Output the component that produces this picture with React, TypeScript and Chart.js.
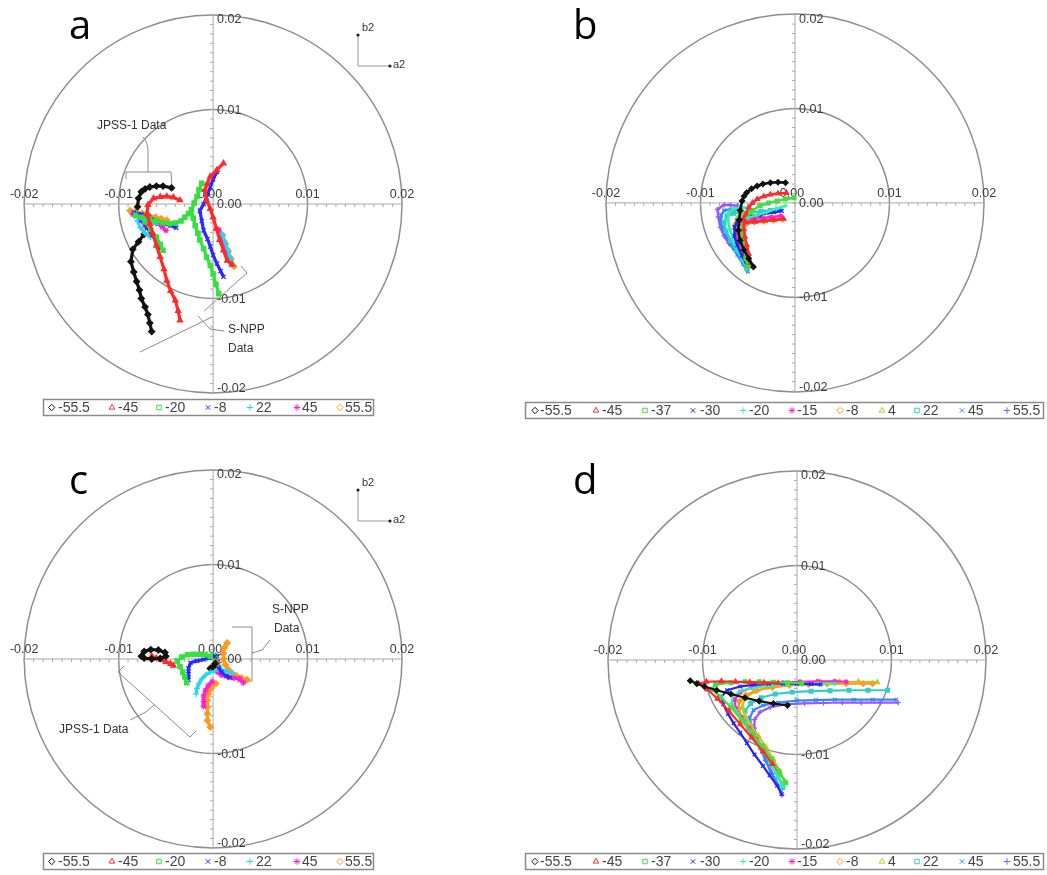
import React, { useEffect, useRef } from 'react';
import { Chart, registerables } from 'chart.js';
import { drawPoint } from 'chart.js/helpers';

Chart.register(...registerables);

// ---------- axis / ring values ----------
const tickValues = [-0.02, -0.01, 0, 0.01, 0.02];
const tickLabels = ['-0.02', '-0.01', '0.00', '0.01', '0.02'];
const ringValues = [0.01, 0.02];

// ---------- panel a / c (7 series) — values in units of 1e-3 ----------
const acLabels = ['-55.5', '-45', '-20', '-8', '22', '45', '55.5'];

const aJpss: number[][][] = [
  [[-4.4, 1.7], [-5.3, 1.9], [-6.0, 1.9], [-6.7, 1.8], [-7.2, 1.6], [-7.6, 1.3], [-7.9, 0.6], [-8.0, -0.3]],
  [[-3.5, 0.4], [-4.2, 0.7], [-4.9, 0.8], [-5.6, 0.75], [-6.3, 0.6], [-6.9, -0.1], [-7.0, -1.0], [-6.7, -2.1], [-6.4, -3.1], [-6.0, -4.4], [-5.6, -5.6], [-5.2, -6.9], [-4.9, -8.1], [-4.5, -9.2], [-4.0, -10.2], [-3.7, -11.3], [-3.5, -12.3]],
  [[-8.2, -1.2], [-7.5, -1.4], [-6.8, -1.6], [-6.0, -1.8], [-5.3, -2.0], [-4.6, -2.1], [-4.0, -2.0], [-3.4, -1.8], [-3.0, -1.4], [-2.6, -1.0]],
  [[-8.4, -0.9], [-7.6, -1.1], [-6.8, -1.4], [-6.0, -1.8], [-5.2, -2.1], [-4.5, -2.3], [-3.9, -2.5]],
  [[-8.3, -1.3], [-7.5, -1.5], [-6.7, -1.8], [-6.0, -2.1]],
  [[-8.5, -1.1], [-7.7, -1.4], [-6.9, -1.7], [-6.1, -2.0], [-5.4, -2.4], [-5.0, -2.8]],
  [[-8.8, -0.7], [-8.2, -0.8], [-7.5, -1.0], [-6.8, -1.2], [-6.1, -1.4], [-5.5, -1.55], [-4.9, -1.7]],
];
const aJpssLow: number[][][] = [
  [],
  [],
  [[-7.2, -1.9], [-6.6, -2.7], [-6.0, -3.5], [-5.6, -4.3], [-5.3, -4.9]],
  [[-7.6, -1.7], [-7.0, -2.5], [-6.4, -3.3], [-5.9, -4.1], [-5.6, -4.7]],
  [[-8.0, -1.8], [-7.7, -2.5], [-7.2, -3.1], [-6.6, -3.5]],
  [[-7.8, -1.6], [-7.2, -2.3], [-6.6, -3.0], [-6.1, -3.6]],
  [],
];
const aSnpp: number[][][] = [
  [[-7.3, -3.2], [-7.9, -4.0], [-8.5, -4.8], [-8.7, -6.1], [-8.4, -7.2], [-8.1, -8.2], [-7.8, -9.1], [-7.6, -10.0], [-7.2, -10.9], [-6.9, -11.7], [-6.7, -12.6], [-6.5, -13.5]],
  [[1.1, 4.3], [0.4, 3.6], [-0.3, 2.9], [-0.6, 2.2], [-0.85, 1.5], [-0.7, 0.4], [-0.3, -0.5], [0.0, -1.4], [0.35, -2.6], [0.7, -3.8], [1.1, -4.9], [1.5, -6.0], [2.0, -6.4]],
  [[-1.2, 2.2], [-1.5, 1.5], [-1.7, 0.8], [-2.0, 0.1], [-2.3, -0.6], [-2.1, -1.5], [-1.9, -2.3], [-1.6, -3.1], [-1.4, -3.8], [-1.0, -4.7], [-0.7, -5.6], [-0.3, -6.5], [0.0, -7.4], [0.3, -8.5], [0.6, -9.5]],
  [[0.4, 3.4], [0.0, 2.6], [-0.3, 1.8], [-0.7, 0.7], [-1.0, 0.0], [-1.4, -0.7], [-1.2, -1.8], [-1.0, -2.8], [-0.6, -3.7], [-0.3, -4.5], [0.0, -5.4], [0.4, -6.3], [0.8, -7.1], [1.1, -7.7]],
  [[0.9, -3.1], [1.2, -3.9], [1.5, -4.7], [1.8, -5.6], [2.1, -6.4]],
  [[0.6, -2.7], [0.9, -3.5], [1.2, -4.3], [1.5, -5.2], [1.8, -6.0]],
  [[1.0, -3.3], [1.3, -4.2], [1.6, -5.0], [1.9, -5.8], [2.2, -6.6]],
];

const cJpss: number[][][] = [
  [[-7.6, 0.3], [-7.3, 0.8], [-6.6, 1.0], [-5.8, 0.95], [-5.1, 0.7], [-5.0, 0.3], [-5.6, 0.05], [-6.5, 0.0], [-7.3, 0.1]],
  [[-6.5, 0.3], [-6.0, 0.1], [-5.5, -0.1], [-5.0, -0.3], [-4.5, -0.5], [-4.2, -0.7]],
  [[-0.3, 0.3], [-0.9, 0.45], [-1.5, 0.5], [-2.1, 0.5], [-2.7, 0.45], [-3.3, 0.2], [-3.8, -0.2], [-3.5, -0.8], [-3.2, -1.4], [-3.0, -1.9], [-2.8, -2.5]],
  [[0.2, 0.3], [-0.4, 0.1], [-1.0, -0.05], [-1.7, -0.2], [-2.4, -0.4], [-2.6, -1.0], [-2.6, -1.6], [-2.6, -2.2]],
  [[0.2, -1.3], [-0.3, -1.4], [-0.8, -1.7], [-1.2, -2.1], [-1.5, -2.6], [-1.7, -3.1], [-1.8, -3.7]],
  [[-0.1, -2.4], [-0.5, -2.8], [-0.8, -3.3], [-1.0, -3.9], [-1.0, -4.5], [-1.0, -5.0]],
  [[0.3, -2.6], [-0.2, -3.1], [-0.5, -3.7], [-0.6, -4.4], [-0.6, -5.1], [-0.6, -5.8], [-0.6, -6.5], [-0.3, -7.2]],
];
const cSnpp: number[][][] = [
  [[0.2, -0.5], [0.0, -0.9], [-0.3, -1.0]],
  [[0.3, -0.3], [0.1, -0.7], [-0.2, -0.9]],
  [[0.1, 0.4], [0.3, 0.0], [0.4, -0.5]],
  [[0.4, 0.3], [0.5, -0.3], [0.6, -0.9], [0.9, -1.4], [1.4, -1.8], [1.8, -2.0]],
  [[0.6, -0.8], [0.9, -1.1], [1.4, -1.3], [2.1, -1.5]],
  [[0.5, -1.4], [0.9, -1.7], [1.6, -1.9], [2.2, -2.0], [2.8, -2.1], [3.2, -2.5]],
  [[1.5, 1.7], [1.2, 1.2], [1.1, 0.6], [1.1, 0.0], [1.3, -0.6], [1.6, -1.1], [2.0, -1.5], [2.5, -1.8], [3.0, -2.0], [3.6, -2.2]],
];

// ---------- panel b / d (11 series) — values in units of 1e-3 ----------
const bdLabels = ['-55.5', '-45', '-37', '-30', '-20', '-15', '-8', '4', '22', '45', '55.5'];

const bPaths: number[][][] = [
  [[-1.0, 2.15], [-1.8, 2.2], [-2.6, 2.15], [-3.4, 2.0], [-4.0, 1.8], [-4.6, 1.5], [-5.1, 1.1], [-5.4, 0.7], [-5.6, 0.2], [-5.8, -0.8], [-5.9, -1.8], [-6.0, -2.9], [-5.8, -4.0], [-5.4, -5.0], [-4.9, -5.9], [-4.4, -6.8]],
  [[-0.9, 1.05], [-1.8, 1.0], [-2.6, 0.9], [-3.3, 0.7], [-4.0, 0.4], [-4.5, 0.0], [-4.9, -0.5], [-5.2, -1.2], [-5.4, -1.9], [-5.4, -2.8], [-5.3, -3.6], [-5.1, -4.5], [-4.9, -5.4], [-4.7, -6.4]],
  [[-0.1, 0.55], [-1.0, 0.4], [-1.9, 0.2], [-2.8, 0.0], [-3.7, -0.3], [-4.5, -0.8], [-5.1, -1.5], [-5.5, -2.3], [-5.6, -3.1], [-5.5, -4.0], [-5.4, -5.0], [-5.2, -5.9], [-5.0, -6.8]],
  [[-1.4, -0.85], [-2.2, -1.0], [-3.0, -1.1], [-3.8, -1.3], [-4.5, -1.45], [-5.3, -1.6], [-6.1, -1.9], [-6.4, -2.6], [-6.4, -3.5], [-6.1, -4.5], [-5.6, -5.6], [-5.1, -6.6]],
  [[-5.0, -0.5], [-5.8, -0.5], [-6.5, -0.6], [-7.0, -1.0], [-7.1, -1.8], [-6.9, -2.8], [-6.5, -3.9], [-6.0, -5.0], [-5.4, -6.2], [-5.1, -6.9]],
  [[-1.5, -1.4], [-2.5, -1.5], [-3.5, -1.6], [-4.5, -1.7], [-5.4, -1.9], [-6.0, -2.4], [-6.1, -3.3], [-5.8, -4.3], [-5.4, -5.3], [-5.0, -6.3]],
  [[-1.3, -1.75], [-2.3, -1.85], [-3.3, -1.95], [-4.3, -2.05], [-5.1, -2.2], [-5.6, -2.8], [-5.6, -3.8], [-5.3, -4.9], [-5.0, -6.0]],
  [[-4.5, -1.2], [-5.4, -1.3], [-6.1, -1.6], [-6.4, -2.3], [-6.3, -3.3], [-5.9, -4.4], [-5.4, -5.5], [-5.0, -6.5]],
  [[-1.6, -0.7], [-2.6, -0.8], [-3.6, -0.9], [-4.6, -1.0], [-5.6, -1.0], [-6.5, -1.1], [-7.2, -1.4], [-7.5, -2.1], [-7.3, -3.0], [-6.8, -4.0], [-6.2, -5.0], [-5.6, -6.0], [-5.1, -7.0]],
  [[-6.0, -0.7], [-6.8, -0.7], [-7.5, -0.8], [-7.8, -1.3], [-7.8, -2.2], [-7.4, -3.3], [-6.8, -4.4], [-6.1, -5.5], [-5.5, -6.5], [-5.0, -7.3]],
  [[-6.1, -0.3], [-6.8, -0.25], [-7.5, -0.2], [-8.2, -0.7], [-8.1, -1.5], [-7.9, -2.6], [-7.5, -3.5], [-7.0, -4.3], [-6.4, -5.0], [-5.8, -5.9], [-5.1, -6.8]],
];
const bBranches: number[][][] = [
  [],
  [[-1.2, -1.7], [-2.2, -1.8], [-3.2, -1.9], [-4.2, -2.0], [-5.2, -2.1]],
  [],
  [],
  [[-1.0, -0.3], [-2.0, -0.6], [-3.0, -1.0], [-4.0, -1.3], [-5.0, -1.6]],
  [],
  [],
  [],
  [],
  [],
  [],
];

const dPaths: number[][][] = [
  [[-11.3, -2.2], [-10.6, -2.5], [-9.8, -2.8], [-8.5, -3.2], [-7.0, -3.6], [-5.5, -4.0], [-4.0, -4.35], [-2.5, -4.6], [-1.0, -4.8]],
  [[-2.6, -11.0], [-3.6, -9.7], [-4.8, -8.2], [-6.0, -6.8], [-7.2, -5.4], [-8.4, -4.1], [-9.5, -3.1], [-10.4, -2.5], [-9.6, -2.3], [-8.0, -2.25], [-6.5, -2.3], [-5.0, -2.35], [-3.5, -2.4], [-2.0, -2.45]],
  [[-1.2, -13.0], [-1.9, -11.8], [-2.7, -10.5], [-3.7, -9.1], [-4.8, -7.7], [-5.9, -6.3], [-7.0, -5.0], [-8.1, -3.9], [-9.0, -3.1], [-8.6, -2.6], [-7.0, -2.4], [-5.5, -2.3], [-4.0, -2.3], [-2.5, -2.35], [-1.0, -2.4], [0.5, -2.45]],
  [[-1.6, -14.2], [-2.1, -13.3], [-2.9, -12.2], [-3.6, -11.2], [-4.5, -10.0], [-5.3, -8.8], [-6.0, -7.7], [-6.7, -6.7], [-7.3, -5.7], [-7.8, -4.7], [-8.0, -3.9], [-7.4, -3.2], [-6.0, -2.8], [-4.5, -2.6], [-3.0, -2.5], [-1.5, -2.5], [0.0, -2.5], [1.5, -2.55], [2.5, -2.6]],
  [[-1.4, -13.4], [-2.0, -12.3], [-2.8, -10.9], [-3.7, -9.4], [-4.6, -8.0], [-5.5, -6.7], [-6.3, -5.6], [-6.9, -4.6], [-6.8, -3.8], [-5.8, -3.2], [-4.3, -2.9], [-2.8, -2.7], [-1.2, -2.6], [0.5, -2.55], [2.2, -2.5], [4.0, -2.5]],
  [[-2.0, -12.0], [-2.6, -11.0], [-3.4, -9.7], [-4.3, -8.4], [-5.1, -7.2], [-5.9, -6.1], [-6.5, -5.1], [-6.6, -4.2], [-6.0, -3.4], [-4.8, -2.9], [-3.2, -2.6], [-1.5, -2.4], [0.3, -2.3], [2.2, -2.25], [4.0, -2.25], [5.2, -2.3]],
  [[-2.1, -11.6], [-2.7, -10.6], [-3.5, -9.4], [-4.3, -8.2], [-5.1, -7.1], [-5.8, -6.1], [-6.2, -5.2], [-6.1, -4.4], [-5.4, -3.7], [-4.2, -3.2], [-2.6, -2.9], [-0.8, -2.7], [1.2, -2.6], [3.2, -2.55], [5.2, -2.5], [7.0, -2.5], [8.0, -2.5]],
  [[-1.3, -12.8], [-1.8, -11.8], [-2.5, -10.5], [-3.3, -9.2], [-4.1, -8.0], [-4.9, -6.9], [-5.5, -5.9], [-5.8, -5.0], [-5.5, -4.1], [-4.6, -3.4], [-3.2, -2.9], [-1.5, -2.6], [0.5, -2.45], [2.5, -2.35], [4.5, -2.3], [6.5, -2.3], [8.5, -2.35]],
  [[-1.5, -13.5], [-2.0, -12.4], [-2.7, -11.1], [-3.5, -9.8], [-4.3, -8.5], [-5.0, -7.3], [-5.5, -6.3], [-5.5, -5.4], [-4.9, -4.6], [-3.8, -4.0], [-2.3, -3.6], [-0.5, -3.4], [1.5, -3.3], [3.5, -3.25], [5.5, -3.2], [7.5, -3.2], [9.6, -3.2]],
  [[-1.7, -14.0], [-2.2, -13.0], [-2.8, -11.8], [-3.4, -10.5], [-3.9, -9.2], [-4.4, -8.0], [-4.8, -7.0], [-5.0, -6.1], [-4.6, -5.3], [-3.6, -4.8], [-2.0, -4.5], [0.0, -4.3], [2.0, -4.25], [4.0, -4.2], [6.0, -4.2], [8.0, -4.2], [10.5, -4.2]],
  [[-1.6, -14.3], [-2.0, -13.3], [-2.6, -12.0], [-3.2, -10.7], [-3.8, -9.5], [-4.2, -8.3], [-4.5, -7.2], [-4.5, -6.3], [-3.9, -5.5], [-2.8, -5.0], [-1.2, -4.7], [0.8, -4.6], [2.8, -4.55], [4.8, -4.5], [6.8, -4.5], [8.8, -4.5], [10.7, -4.5]],
];

// ---------- styles ----------
const colors7 = ['#111111', '#ff2a2a', '#33e040', '#2a2aff', '#22d8ee', '#ff22cc', '#ff9922'];
const styles7 = ['rectRot', 'triangle', 'rect', 'crossRot', 'cross', 'star', 'rectRot'];
const colors11 = ['#111111', '#ff2a2a', '#44dd44', '#2222ff', '#33f0a8', '#ff22cc', '#ff9922', '#b8cc22', '#33cccc', '#3388ff', '#9955ff'];
const styles11 = ['rectRot', 'triangle', 'rect', 'crossRot', 'cross', 'star', 'rectRot', 'triangle', 'rect', 'crossRot', 'cross'];

const legendA = { x: 43, w: 330, mx: [51.7, 112, 159, 208, 250, 297, 340], tx: [58, 118, 165, 214, 256, 302, 345] };
const legendB = { x: 2, w: 518, mx: [12, 73, 122, 170, 220, 269, 317, 359, 394, 439, 484], tx: [17, 79, 128, 177, 226, 274, 323, 365, 400, 445, 490] };

const K = 9450; // px per data unit
const XR = 0.022, YTOP = 0.021, YBOT = 0.022;

type Panel = {
  key: string;
  left: number; top: number; width: number; height: number;
  cx: number; cy: number;
  letter: string; lx: number; ly: number;
  labels: string[]; colors: string[]; styles: string[];
  groups: number[][][][];
  legend: { x: number; w: number; mx: number[]; tx: number[] };
  legendY: number;
  indicator: boolean;
  lineW: number; pr: number;
  annot: ((ctx: CanvasRenderingContext2D) => void) | null;
};

function seg(ctx: CanvasRenderingContext2D, pts: number[][]) {
  ctx.beginPath();
  ctx.moveTo(pts[0][0], pts[0][1]);
  for (let i = 1; i < pts.length; i++) ctx.lineTo(pts[i][0], pts[i][1]);
  ctx.stroke();
}

function annotA(ctx: CanvasRenderingContext2D) {
  ctx.strokeStyle = '#8a8a8a';
  ctx.lineWidth = 1;
  ctx.fillStyle = '#333';
  ctx.font = '12px "Liberation Sans", Arial, sans-serif';
  ctx.textBaseline = 'middle';
  ctx.textAlign = 'left';
  ctx.fillText('JPSS-1 Data', 97, 126);
  ctx.beginPath();
  ctx.moveTo(143, 137);
  ctx.quadraticCurveTo(148, 142, 148, 152);
  ctx.lineTo(148, 172);
  ctx.stroke();
  seg(ctx, [[126, 179], [126, 172], [171, 172], [172, 187]]);
  ctx.fillText('S-NPP', 228, 330);
  ctx.fillText('Data', 228, 349);
  seg(ctx, [[241, 266], [247, 273], [204, 311]]);
  seg(ctx, [[212, 317], [140, 352]]);
  seg(ctx, [[198, 316], [210, 329], [224, 331]]);
}

function annotC(ctx: CanvasRenderingContext2D) {
  ctx.strokeStyle = '#8a8a8a';
  ctx.lineWidth = 1;
  ctx.fillStyle = '#333';
  ctx.font = '12px "Liberation Sans", Arial, sans-serif';
  ctx.textBaseline = 'middle';
  ctx.textAlign = 'left';
  ctx.fillText('S-NPP', 272, 170);
  ctx.fillText('Data', 274, 189);
  seg(ctx, [[232, 187], [252, 187], [252, 241], [237, 242]]);
  seg(ctx, [[252, 213], [262, 210], [270, 200]]);
  ctx.fillText('JPSS-1 Data', 59, 290);
  seg(ctx, [[124, 226], [118, 232], [190, 297], [196, 291]]);
  seg(ctx, [[154, 265], [146, 272], [130, 280]]);
}

const panels: Panel[] = [
  {
    key: 'a', left: 0, top: 0, width: 523, height: 440, cx: 213, cy: 204,
    letter: 'a', lx: 69, ly: 39, labels: acLabels, colors: colors7, styles: styles7,
    groups: [aJpss, aJpssLow, aSnpp], legend: legendA, legendY: 399, indicator: true, annot: annotA,
    lineW: 3.2, pr: 3,
  },
  {
    key: 'b', left: 523, top: 0, width: 524, height: 440, cx: 272, cy: 202,
    letter: 'b', lx: 50, ly: 39, labels: bdLabels, colors: colors11, styles: styles11,
    groups: [bBranches, bPaths], legend: legendB, legendY: 402, indicator: false, annot: null,
    lineW: 2.6, pr: 2.6,
  },
  {
    key: 'c', left: 0, top: 440, width: 523, height: 435, cx: 213, cy: 219,
    letter: 'c', lx: 69, ly: 54, labels: acLabels, colors: colors7, styles: styles7,
    groups: [cJpss, cSnpp], legend: legendA, legendY: 413, indicator: true, annot: annotC,
    lineW: 3.2, pr: 3,
  },
  {
    key: 'd', left: 523, top: 440, width: 524, height: 435, cx: 274, cy: 220,
    letter: 'd', lx: 50, ly: 54, labels: bdLabels, colors: colors11, styles: styles11,
    groups: [dPaths], legend: legendB, legendY: 413, indicator: false, annot: null,
    lineW: 2.2, pr: 2.6,
  },
];

function makePlugin(p: Panel) {
  return {
    id: 'polarDecor' + p.key,
    beforeDatasetsDraw(chart: any) {
      const ctx: CanvasRenderingContext2D = chart.ctx;
      const xs = chart.scales.x;
      const ys = chart.scales.y;
      const cx = xs.getPixelForValue(0);
      const cy = ys.getPixelForValue(0);
      ctx.save();
      ctx.strokeStyle = '#8e8e8e';
      ctx.lineWidth = 1.5;
      for (const r of ringValues) {
        const rp = xs.getPixelForValue(r) - cx;
        ctx.beginPath();
        ctx.arc(cx, cy, rp, 0, Math.PI * 2);
        ctx.stroke();
      }
      const x0 = xs.getPixelForValue(-0.02);
      const x1 = xs.getPixelForValue(0.02);
      const y0 = ys.getPixelForValue(0.02);
      const y1 = ys.getPixelForValue(-0.02);
      ctx.strokeStyle = '#a8a8a8';
      ctx.lineWidth = 1;
      seg(ctx, [[x0, cy], [x1, cy]]);
      seg(ctx, [[cx, y0], [cx, y1]]);
      for (let i = -20; i <= 20; i++) {
        const px = xs.getPixelForValue(i * 0.001);
        seg(ctx, [[px, cy], [px, cy + 3]]);
        const py = ys.getPixelForValue(i * 0.001);
        seg(ctx, [[cx - 3, py], [cx, py]]);
      }
      ctx.fillStyle = '#3a3a3a';
      ctx.font = '12.5px "Liberation Sans", Arial, sans-serif';
      ctx.textBaseline = 'middle';
      tickValues.forEach((v, i) => {
        const px = xs.getPixelForValue(v);
        ctx.textAlign = 'center';
        ctx.fillText(tickLabels[i], px - (v === 0 ? 3 : 0), cy - 9);
        const py = ys.getPixelForValue(v);
        const off = v === 0.02 ? 5 : v === -0.02 ? -4 : 1;
        ctx.textAlign = 'left';
        ctx.fillText(tickLabels[i], cx + 4, py + off);
      });
      if (p.annot) p.annot(ctx);
      ctx.restore();
    },
    afterDraw(chart: any) {
      const ctx: CanvasRenderingContext2D = chart.ctx;
      ctx.save();
      ctx.fillStyle = '#000';
      ctx.font = '40px "Open Sans", "Liberation Sans", sans-serif';
      ctx.textAlign = 'left';
      ctx.textBaseline = 'alphabetic';
      ctx.fillText(p.letter, p.lx, p.ly);
      if (p.indicator) {
        const oy = p.ly - 39;
        ctx.strokeStyle = '#999';
        ctx.lineWidth = 1;
        seg(ctx, [[358, 35 + oy], [358, 66 + oy], [390, 66 + oy]]);
        ctx.fillStyle = '#222';
        ctx.beginPath(); ctx.arc(358, 35 + oy, 1.6, 0, Math.PI * 2); ctx.fill();
        ctx.beginPath(); ctx.arc(390, 66 + oy, 1.6, 0, Math.PI * 2); ctx.fill();
        ctx.fillStyle = '#333';
        ctx.font = '11px "Liberation Sans", Arial, sans-serif';
        ctx.textBaseline = 'middle';
        ctx.fillText('b2', 362, 28 + oy);
        ctx.fillText('a2', 393, 65 + oy);
      }
      const L = p.legend;
      const ly = p.legendY;
      ctx.fillStyle = '#fff';
      ctx.fillRect(L.x, ly, L.w, 16);
      ctx.strokeStyle = '#8a8a8a';
      ctx.lineWidth = 1.5;
      ctx.strokeRect(L.x + 0.5, ly + 0.5, L.w, 16);
      ctx.font = '14px "Liberation Sans", Arial, sans-serif';
      ctx.textBaseline = 'middle';
      ctx.textAlign = 'left';
      p.labels.forEach((lab, i) => {
        ctx.strokeStyle = p.colors[i];
        ctx.fillStyle = p.styles[i] === 'star' ? p.colors[i] : '#fff';
        ctx.lineWidth = 1;
        drawPoint(ctx, { pointStyle: p.styles[i] as any, radius: 3.2, borderWidth: 1, rotation: 0 }, L.mx[i], ly + 8.5);
        ctx.fillStyle = '#444';
        ctx.fillText(lab, L.tx[i], ly + 9);
      });
      ctx.restore();
    },
  };
}

function buildDatasets(p: Panel) {
  const ds: any[] = [];
  p.groups.forEach((group) => {
    group.forEach((pts, i) => {
      if (!pts.length) return;
      ds.push({
        label: p.labels[i],
        data: pts.map(([x, y]) => ({ x: x * 1e-3, y: y * 1e-3 })),
        showLine: true,
        borderColor: p.colors[i],
        backgroundColor: p.colors[i],
        pointBackgroundColor: p.colors[i],
        pointBorderColor: p.colors[i],
        pointStyle: p.styles[i],
        pointRadius: p.pr,
        pointBorderWidth: 1.3,
        borderWidth: p.lineW,
        clip: false,
      });
    });
  });
  return ds;
}

function PanelChart({ p }: { p: Panel }) {
  const ref = useRef<HTMLCanvasElement | null>(null);
  useEffect(() => {
    if (!ref.current) return;
    const padL = p.cx - XR * K;
    const padR = p.width - (p.cx + XR * K);
    const padT = p.cy - YTOP * K;
    const padB = p.height - (p.cy + YBOT * K);
    const chart = new Chart(ref.current, {
      type: 'scatter',
      data: { datasets: buildDatasets(p) },
      options: {
        responsive: false,
        animation: false,
        devicePixelRatio: 1,
        events: [],
        layout: { padding: { left: padL, right: padR, top: padT, bottom: padB } },
        plugins: { legend: { display: false }, tooltip: { enabled: false } },
        scales: {
          x: { type: 'linear', min: -XR, max: XR, display: false },
          y: { type: 'linear', min: -YBOT, max: YTOP, display: false },
        },
      },
      plugins: [makePlugin(p)],
    } as any);
    return () => chart.destroy();
  }, [p]);
  return (
    <canvas
      ref={ref}
      width={p.width}
      height={p.height}
      style={{ position: 'absolute', left: p.left, top: p.top, width: p.width, height: p.height }}
    />
  );
}

export default function App() {
  return (
    <div style={{ position: 'absolute', left: 0, top: 0, width: 1047, height: 875, background: '#fff', overflow: 'hidden' }}>
      {panels.map((p) => (
        <PanelChart key={p.key} p={p} />
      ))}
    </div>
  );
}
